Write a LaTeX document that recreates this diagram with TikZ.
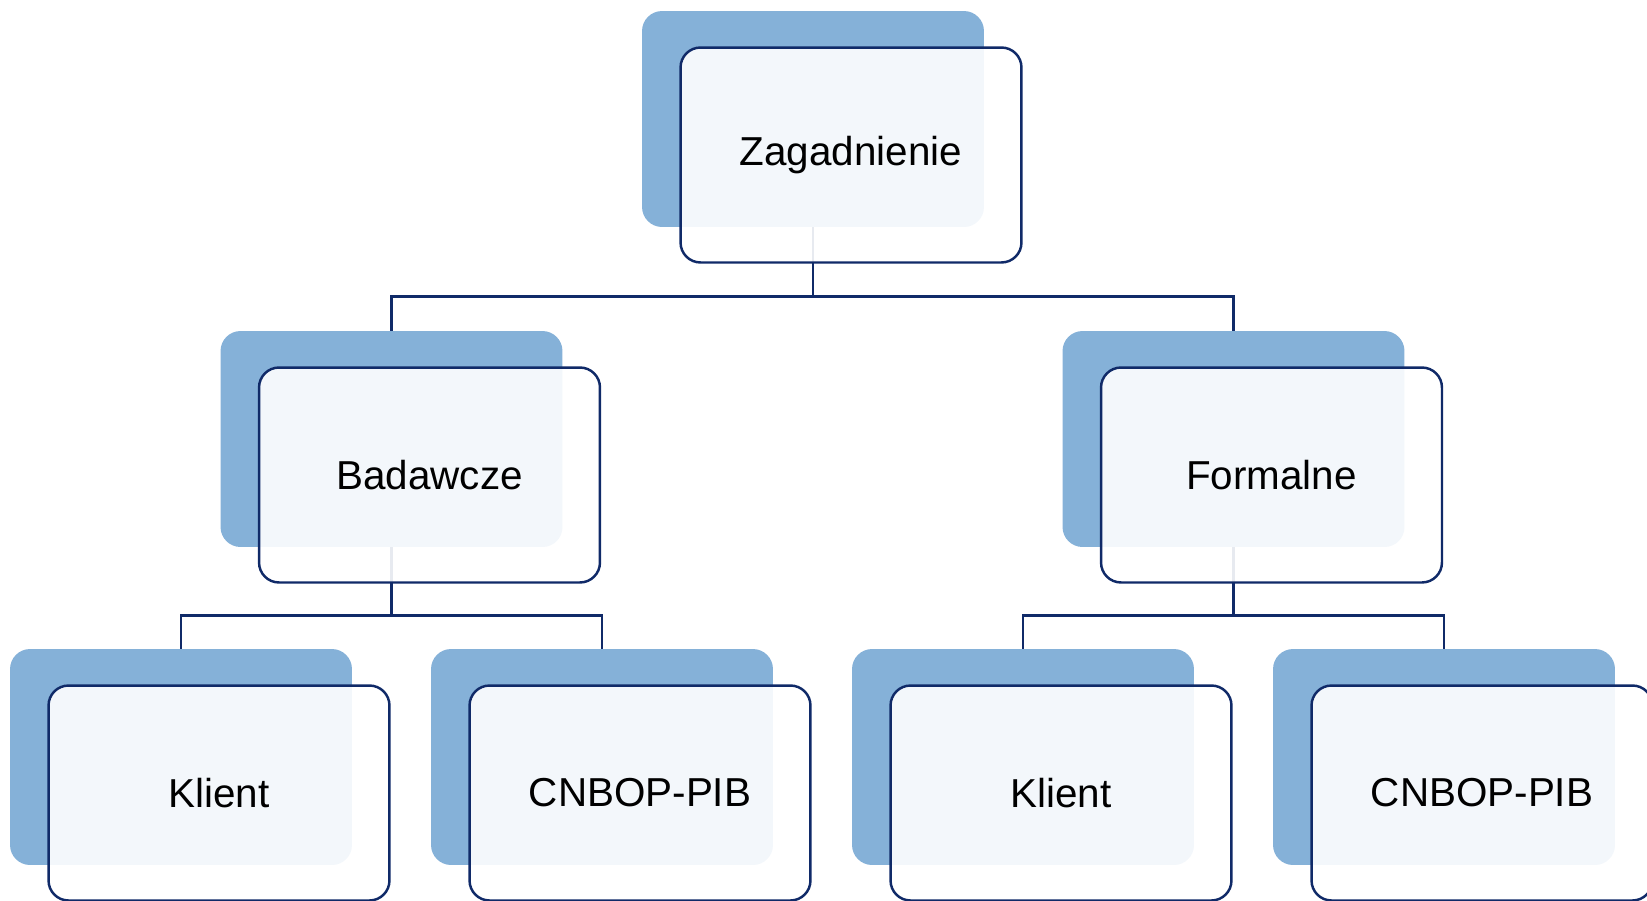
\documentclass[tikz,border=0pt]{standalone}
\usepackage{fontspec}
\setmainfont{Liberation Sans}
\usetikzlibrary{positioning}
\definecolor{backblue}{RGB}{133,177,216}
\definecolor{navy}{RGB}{16,42,104}
\tikzset{
  backbox/.style={fill=backblue, rounded corners=0.4cm, inner sep=0pt,
    minimum width=6.84cm, minimum height=4.32cm},
  frontbox/.style={draw=navy, line width=1.4pt, fill=white, fill opacity=0.9,
    text opacity=1, rounded corners=0.4cm, inner sep=0pt,
    minimum width=6.82cm, minimum height=4.3cm,
    font=\fontsize{23}{28}\selectfont},
  link/.style={draw=navy, line width=1.4pt}
}

\begin{document}
\begin{tikzpicture}[x=0.02cm, y=-0.02cm]
  \useasboundingbox (0,0) rectangle (1647,900);

  \def\dx{-38};
  \def\dy{-36};

  % shifted blue boxes behind
  \foreach \name/\x/\y in {zag/851/155, bad/429.5/475, form/1271.5/475,
      kl1/219/793, cn1/640/793, kl2/1061/793, cn2/1482/793} {
    \node[backbox] (\name-b) at (\x+\dx, \y+\dy) {};
  }

  % connectors
  \draw[link] (zag-b.south) -- ++(0,69) coordinate (j1);
  \draw[link] (j1) -| (bad-b.north);
  \draw[link] (j1) -| (form-b.north);
  \draw[link] (bad-b.south) -- ++(0,68) coordinate (j2);
  \draw[link] (j2) -| (kl1-b.north);
  \draw[link] (j2) -| (cn1-b.north);
  \draw[link] (form-b.south) -- ++(0,68) coordinate (j3);
  \draw[link] (j3) -| (kl2-b.north);
  \draw[link] (j3) -| (cn2-b.north);

  % outlined boxes with text
  \foreach \name/\x/\y/\txt in {zag/851/155/Zagadnienie, bad/429.5/475/Badawcze,
      form/1271.5/475/Formalne, kl1/219/793/Klient, cn1/640/793/CNBOP-PIB,
      kl2/1061/793/Klient, cn2/1482/793/CNBOP-PIB} {
    \node[frontbox] (\name) at (\x,\y) {\txt};
  }
\end{tikzpicture}
\end{document}
